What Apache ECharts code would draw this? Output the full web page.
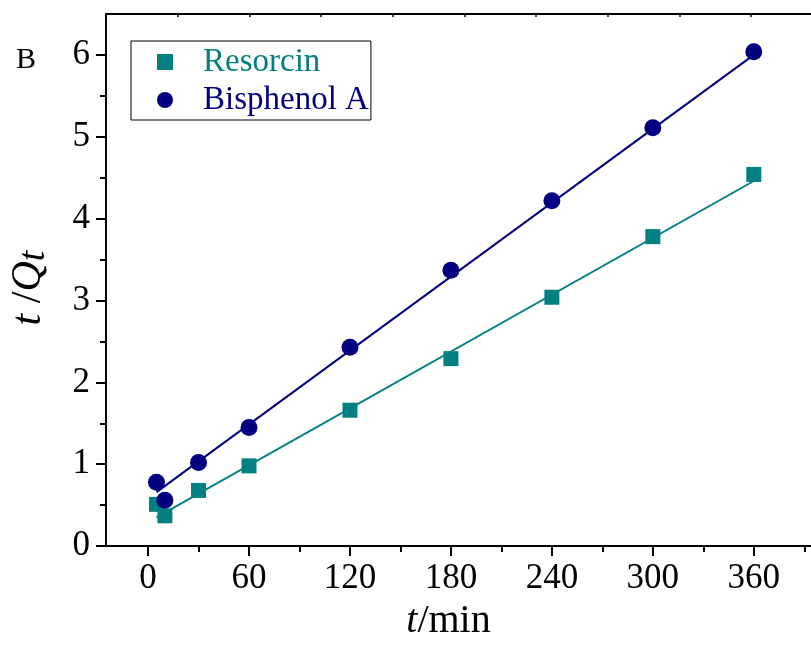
<!DOCTYPE html>
<html>
<head>
<meta charset="utf-8">
<script src="https://cdn.jsdelivr.net/npm/echarts@6/dist/echarts.min.js"></script>
<style>html,body{margin:0;padding:0;background:#fff}#c{width:811px;height:646px}</style>
</head>
<body>
<div id="c"></div>
<script>
const times = [5, 10, 30, 60, 120, 180, 240, 300, 360];
const resorcin = [0.51, 0.37, 0.68, 0.98, 1.66, 2.29, 3.04, 3.78, 4.54];
const bisphenolA = [0.78, 0.56, 1.02, 1.45, 2.43, 3.37, 4.22, 5.11, 6.04];
const fitTimes = [5, 360];
const resorcinFit = [0.35, 4.46];
const bisphenolFit = [0.66, 6.00];
const xMajorTicks = [0, 60, 120, 180, 240, 300, 360];
const xMinorTicks = [30, 90, 150, 210, 270, 330, 390];
const yMajorTicks = [0, 1, 2, 3, 4, 5, 6];
const yMinorTicks = [0.5, 1.5, 2.5, 3.5, 4.5, 5.5];
const topTicks = [1, 2, 3, 4, 5, 6, 7, 8, 9];

const FONT = 'Liberation Serif';
const TEAL = '#008080';
const NAVY = '#000080';
const pairs = (xs, ys) => xs.map((x, i) => [x, ys[i]]);

const chart = echarts.init(document.getElementById('c'));
const xCommon = { type: 'value', min: -25, max: 394, splitLine: { show: false } };
const yCommon = { type: 'value', min: 0, max: 6.5, splitLine: { show: false } };

chart.setOption({
  backgroundColor: '#fff',
  animation: false,
  title: { text: 'B', left: 11, top: 40, textStyle: { fontFamily: FONT, fontSize: 30, fontWeight: 'normal', color: '#000' } },
  grid: { left: 105, top: 14, width: 709, height: 533, containLabel: false },
  legend: {
    left: 131, top: 41, orient: 'vertical',
    data: [
      { name: 'Resorcin', icon: 'rect', textStyle: { color: TEAL } },
      { name: 'Bisphenol A', icon: 'circle', textStyle: { color: NAVY } }
    ],
    itemWidth: 16, itemHeight: 16, itemGap: 4,
    padding: [4, 2, 3, 26],
    borderColor: '#000', borderWidth: 1,
    formatter: n => '{g|}' + n,
    textStyle: { fontFamily: FONT, fontSize: 33, lineHeight: 34, rich: { g: { width: 25 } } }
  },
  xAxis: [
    Object.assign({}, xCommon, {
      position: 'bottom',
      name: '{i|t}/min', nameLocation: 'middle', nameGap: 52,
      nameTextStyle: { fontFamily: FONT, fontSize: 40, color: '#000', padding: [0, 20, 0, 0],
        rich: { i: { fontFamily: FONT, fontSize: 40, fontStyle: 'italic' } } },
      axisLine: { onZero: false, lineStyle: { color: '#000', width: 2 } },
      axisTick: { show: true, inside: false, length: 10, lineStyle: { width: 2, color: '#000' }, customValues: xMajorTicks },
      axisLabel: { customValues: xMajorTicks, margin: 15, fontFamily: FONT, fontSize: 35, color: '#000' }
    }),
    Object.assign({}, xCommon, {
      position: 'bottom',
      axisLine: { show: false, onZero: false },
      axisTick: { show: true, inside: false, length: 6, lineStyle: { width: 2, color: '#000' }, customValues: xMinorTicks },
      axisLabel: { show: false }
    }),
    {
      type: 'value', position: 'top', min: 0, max: 9.836, splitLine: { show: false },
      axisLine: { onZero: false, lineStyle: { color: '#000', width: 2 } },
      axisTick: { show: true, inside: true, length: 3, lineStyle: { width: 1.5, color: '#000' }, customValues: topTicks },
      axisLabel: { show: false }
    }
  ],
  yAxis: [
    Object.assign({}, yCommon, {
      position: 'left',
      name: '{i|t} /{i|Q}{s|t}', nameLocation: 'middle', nameGap: 53, nameRotate: 90,
      nameTextStyle: { fontFamily: FONT, fontSize: 42, color: '#000', padding: [0, 0, 0, -16],
        rich: {
          i: { fontFamily: FONT, fontSize: 42, fontStyle: 'italic', lineHeight: 48 },
          s: { fontFamily: FONT, fontSize: 38, fontStyle: 'italic', lineHeight: 48, verticalAlign: 'bottom' }
        } },
      axisLine: { onZero: false, lineStyle: { color: '#000', width: 2 } },
      axisTick: { show: true, inside: false, length: 10, lineStyle: { width: 2, color: '#000' }, customValues: yMajorTicks },
      axisLabel: { customValues: yMajorTicks, margin: 16, fontFamily: FONT, fontSize: 35, color: '#000' }
    }),
    Object.assign({}, yCommon, {
      position: 'left',
      axisLine: { show: false, onZero: false },
      axisTick: { show: true, inside: false, length: 6, lineStyle: { width: 2, color: '#000' }, customValues: yMinorTicks },
      axisLabel: { show: false }
    })
  ],
  series: [
    { name: 'Resorcin fit', type: 'line', data: pairs(fitTimes, resorcinFit), showSymbol: false, symbol: 'none',
      lineStyle: { color: TEAL, width: 2 }, itemStyle: { color: TEAL }, z: 2, silent: true },
    { name: 'Bisphenol A fit', type: 'line', data: pairs(fitTimes, bisphenolFit), showSymbol: false, symbol: 'none',
      lineStyle: { color: NAVY, width: 2 }, itemStyle: { color: NAVY }, z: 2, silent: true },
    { name: 'Resorcin', type: 'scatter', data: pairs(times, resorcin), symbol: 'rect', symbolSize: 15,
      itemStyle: { color: TEAL, opacity: 1 }, z: 3 },
    { name: 'Bisphenol A', type: 'scatter', data: pairs(times, bisphenolA), symbol: 'circle', symbolSize: 17,
      itemStyle: { color: NAVY, opacity: 1 }, z: 4 }
  ]
});
</script>
</body>
</html>
